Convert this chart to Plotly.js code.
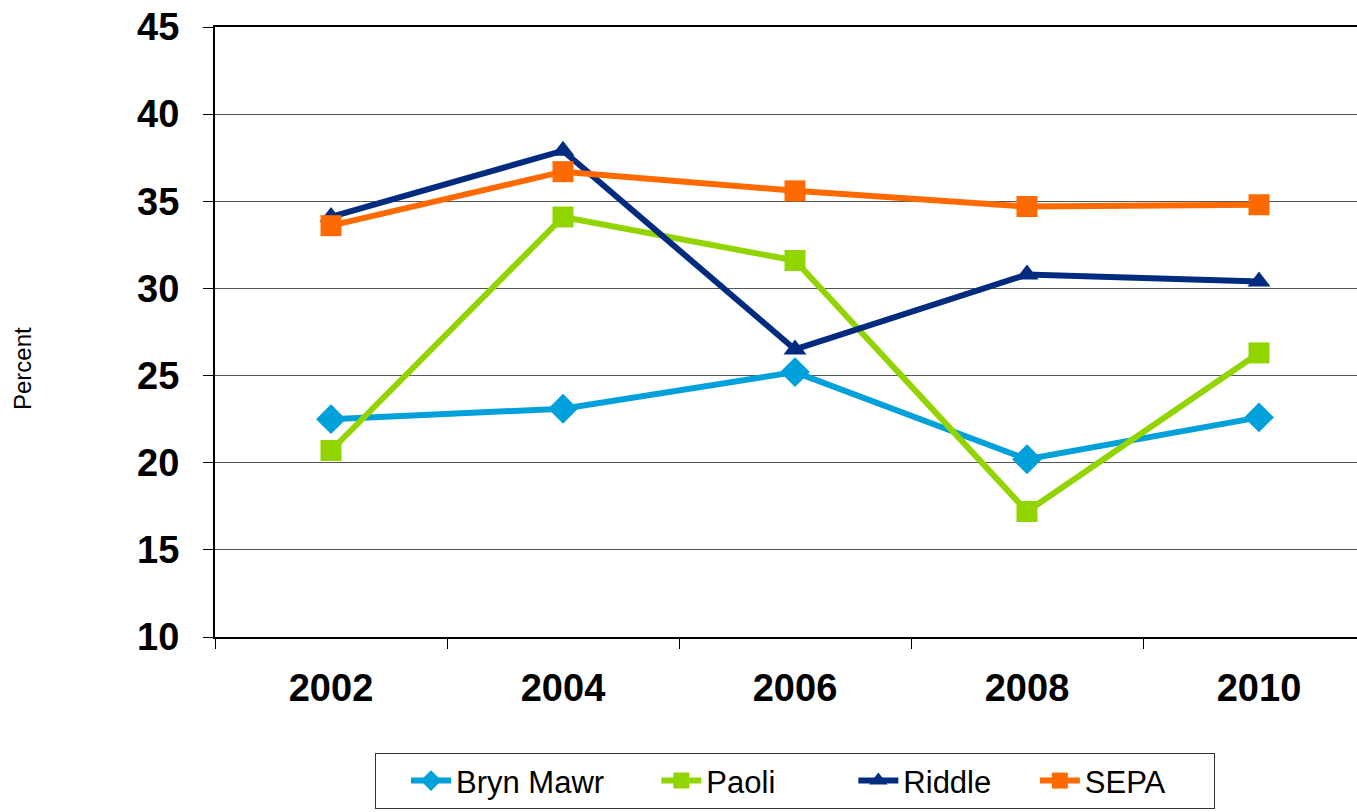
<!DOCTYPE html>
<html><head><meta charset="utf-8">
<script src="https://cdn.plot.ly/plotly-3.0.1.min.js"></script>
<style>html,body{margin:0;padding:0;overflow:hidden;background:#fff}#chart{width:1400px;height:840px}</style>
</head><body><div id="chart"></div>
<script>
const years = ['2002','2004','2006','2008','2010'];
const brynMawr = [22.5, 23.1, 25.2, 20.2, 22.6];
const paoli = [20.7, 34.1, 31.6, 17.2, 26.3];
const riddle = [34.1, 37.9, 26.5, 30.8, 30.4];
const sepa = [33.6, 36.7, 35.6, 34.7, 34.8];
const yTicks = [10, 15, 20, 25, 30, 35, 40, 45];

const font = 'Liberation Sans, Arial, sans-serif';
const pad = n => '\u00a0'.repeat(n);
function tr(name, y, color, symbol, size, padN){
  return {x: years, y: y, name: name + pad(padN), type: 'scatter', mode: 'lines+markers',
    line: {color: color, width: 6}, marker: {color: color, symbol: symbol, size: size}};
}
const data = [
  tr('Bryn Mawr', brynMawr, '#00A0DA', 'diamond', 23, 2),
  tr('Paoli', paoli, '#92D400', 'square', 21, 5),
  tr('Riddle', riddle, '#002B7F', 'triangle-up', 20, 1),
  tr('SEPA', sepa, '#FF6A00', 'square', 21, 5)
];
const layout = {
  width: 1400, height: 840,
  margin: {l: 215, r: 25, t: 27, b: 203},
  paper_bgcolor: '#fff', plot_bgcolor: '#fff',
  showlegend: true,
  font: {family: font, color: '#000'},
  xaxis: {type: 'category', tickson: 'boundaries', ticks: 'outside', ticklen: 10, tickcolor: '#000',
    showgrid: false, showline: true, mirror: true, linecolor: '#000', linewidth: 2,
    tickfont: {family: font, size: 38, weight: 'bold', color: '#000'}, ticklabelstandoff: 16,
    range: [-0.5, 4.5]},
  yaxis: {range: [10, 45], tickvals: yTicks, ticks: 'outside', ticklen: 10, tickcolor: '#000',
    showgrid: true, gridcolor: '#555', gridwidth: 1, showline: true, linecolor: '#000', linewidth: 2,
    zeroline: false, tickfont: {family: font, size: 38, weight: 'bold', color: '#000'}, ticklabelstandoff: 16},
  legend: {orientation: 'h', x: 0.5, xanchor: 'center', y: -0.19, yanchor: 'top',
    bordercolor: '#333', borderwidth: 1, font: {family: font, size: 31, color: '#000'},
    itemwidth: 40, indentation: 30},
  annotations: [{text: 'Percent', xref: 'paper', yref: 'paper', x: -0.166, y: 0.44,
    textangle: -90, showarrow: false, font: {family: font, size: 24, color: '#000'},
    xanchor: 'center', yanchor: 'middle'}]
};
Plotly.newPlot('chart', data, layout, {displayModeBar: false, staticPlot: true});
</script></body></html>
